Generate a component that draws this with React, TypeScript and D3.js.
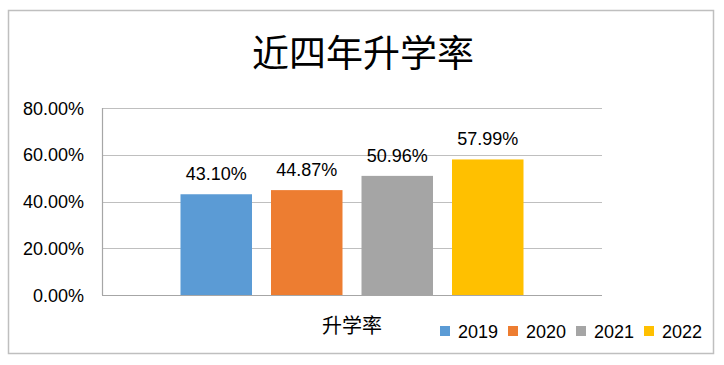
import React, { useEffect } from "react";
import * as d3 from "d3";

// chart data
const title = "近四年升学率";
const categories = ["升学率"];
const years = ["2019", "2020", "2021", "2022"];
const rates = [0.431, 0.4487, 0.5096, 0.5799];
const colors = ["#5B9BD5", "#ED7D31", "#A5A5A5", "#FFC000"];
const yTicks = [0, 0.2, 0.4, 0.6, 0.8];

const W = 724;
const H = 365;
const plot = { left: 102, right: 602, top: 108, bottom: 295 };
const latin = "'Liberation Sans', Arial, sans-serif";
const cjk = "'Noto Sans CJK SC', sans-serif";

const App = () => {
  useEffect(() => {
    document.body.style.margin = "0";
  }, []);

  const y = d3.scaleLinear().domain([0, 0.8]).range([plot.bottom, plot.top]);
  const x0 = d3.scaleBand<string>().domain(categories).range([plot.left, plot.right]);
  // bars take up the middle ~69% of the category band
  const groupW = x0.bandwidth() * 0.686;
  const x1 = d3.scaleBand<string>().domain(years).range([0, groupW]).paddingInner(0.21);
  const pct = d3.format(".2%");

  const cx = (x0(categories[0]) ?? 0) + x0.bandwidth() / 2;
  const gx = cx - groupW / 2;

  return (
    <svg width={W} height={H} style={{ display: "block", background: "#fff" }}>
      <rect x={8.5} y={10.5} width={705} height={343} fill="#fff" stroke="#BFBFBF" strokeWidth={1.5} />
      <text x={363} y={67} textAnchor="middle" fontFamily={cjk} fontSize={37} fill="#000">
        {title}
      </text>

      {yTicks.map((t) => (
        <g key={t}>
          {t > 0 && (
            <line x1={plot.left} x2={plot.right} y1={Math.round(y(t)) + 0.5} y2={Math.round(y(t)) + 0.5} stroke="#BFBFBF" strokeWidth={1.2} />
          )}
          <text x={84} y={y(t) + 6.5} textAnchor="end" fontFamily={latin} fontSize={18} fill="#000">
            {pct(t)}
          </text>
        </g>
      ))}
      <line x1={plot.left + 0.5} x2={plot.left + 0.5} y1={plot.top} y2={plot.bottom} stroke="#A6A6A6" strokeWidth={1.2} />
      <line x1={plot.left} x2={plot.right} y1={plot.bottom + 0.5} y2={plot.bottom + 0.5} stroke="#A6A6A6" strokeWidth={1.2} />

      {years.map((yr, i) => {
        const bx = gx + (x1(yr) ?? 0);
        const v = rates[i];
        return (
          <g key={yr}>
            <rect x={bx} y={y(v)} width={x1.bandwidth()} height={plot.bottom - y(v)} fill={colors[i]} />
            <text x={bx + x1.bandwidth() / 2} y={y(v) - 14} textAnchor="middle" fontFamily={latin} fontSize={18} fill="#000">
              {pct(v)}
            </text>
          </g>
        );
      })}

      <text x={cx} y={333} textAnchor="middle" fontFamily={cjk} fontSize={20} fill="#000">
        {categories[0]}
      </text>

      {years.map((yr, i) => {
        const lx = 440 + i * 68;
        return (
          <g key={"lg" + yr}>
            <rect x={lx} y={326} width={10} height={10} fill={colors[i]} />
            <text x={lx + 18} y={337.5} fontFamily={latin} fontSize={18} fill="#000">
              {yr}
            </text>
          </g>
        );
      })}
    </svg>
  );
};

export default App;
